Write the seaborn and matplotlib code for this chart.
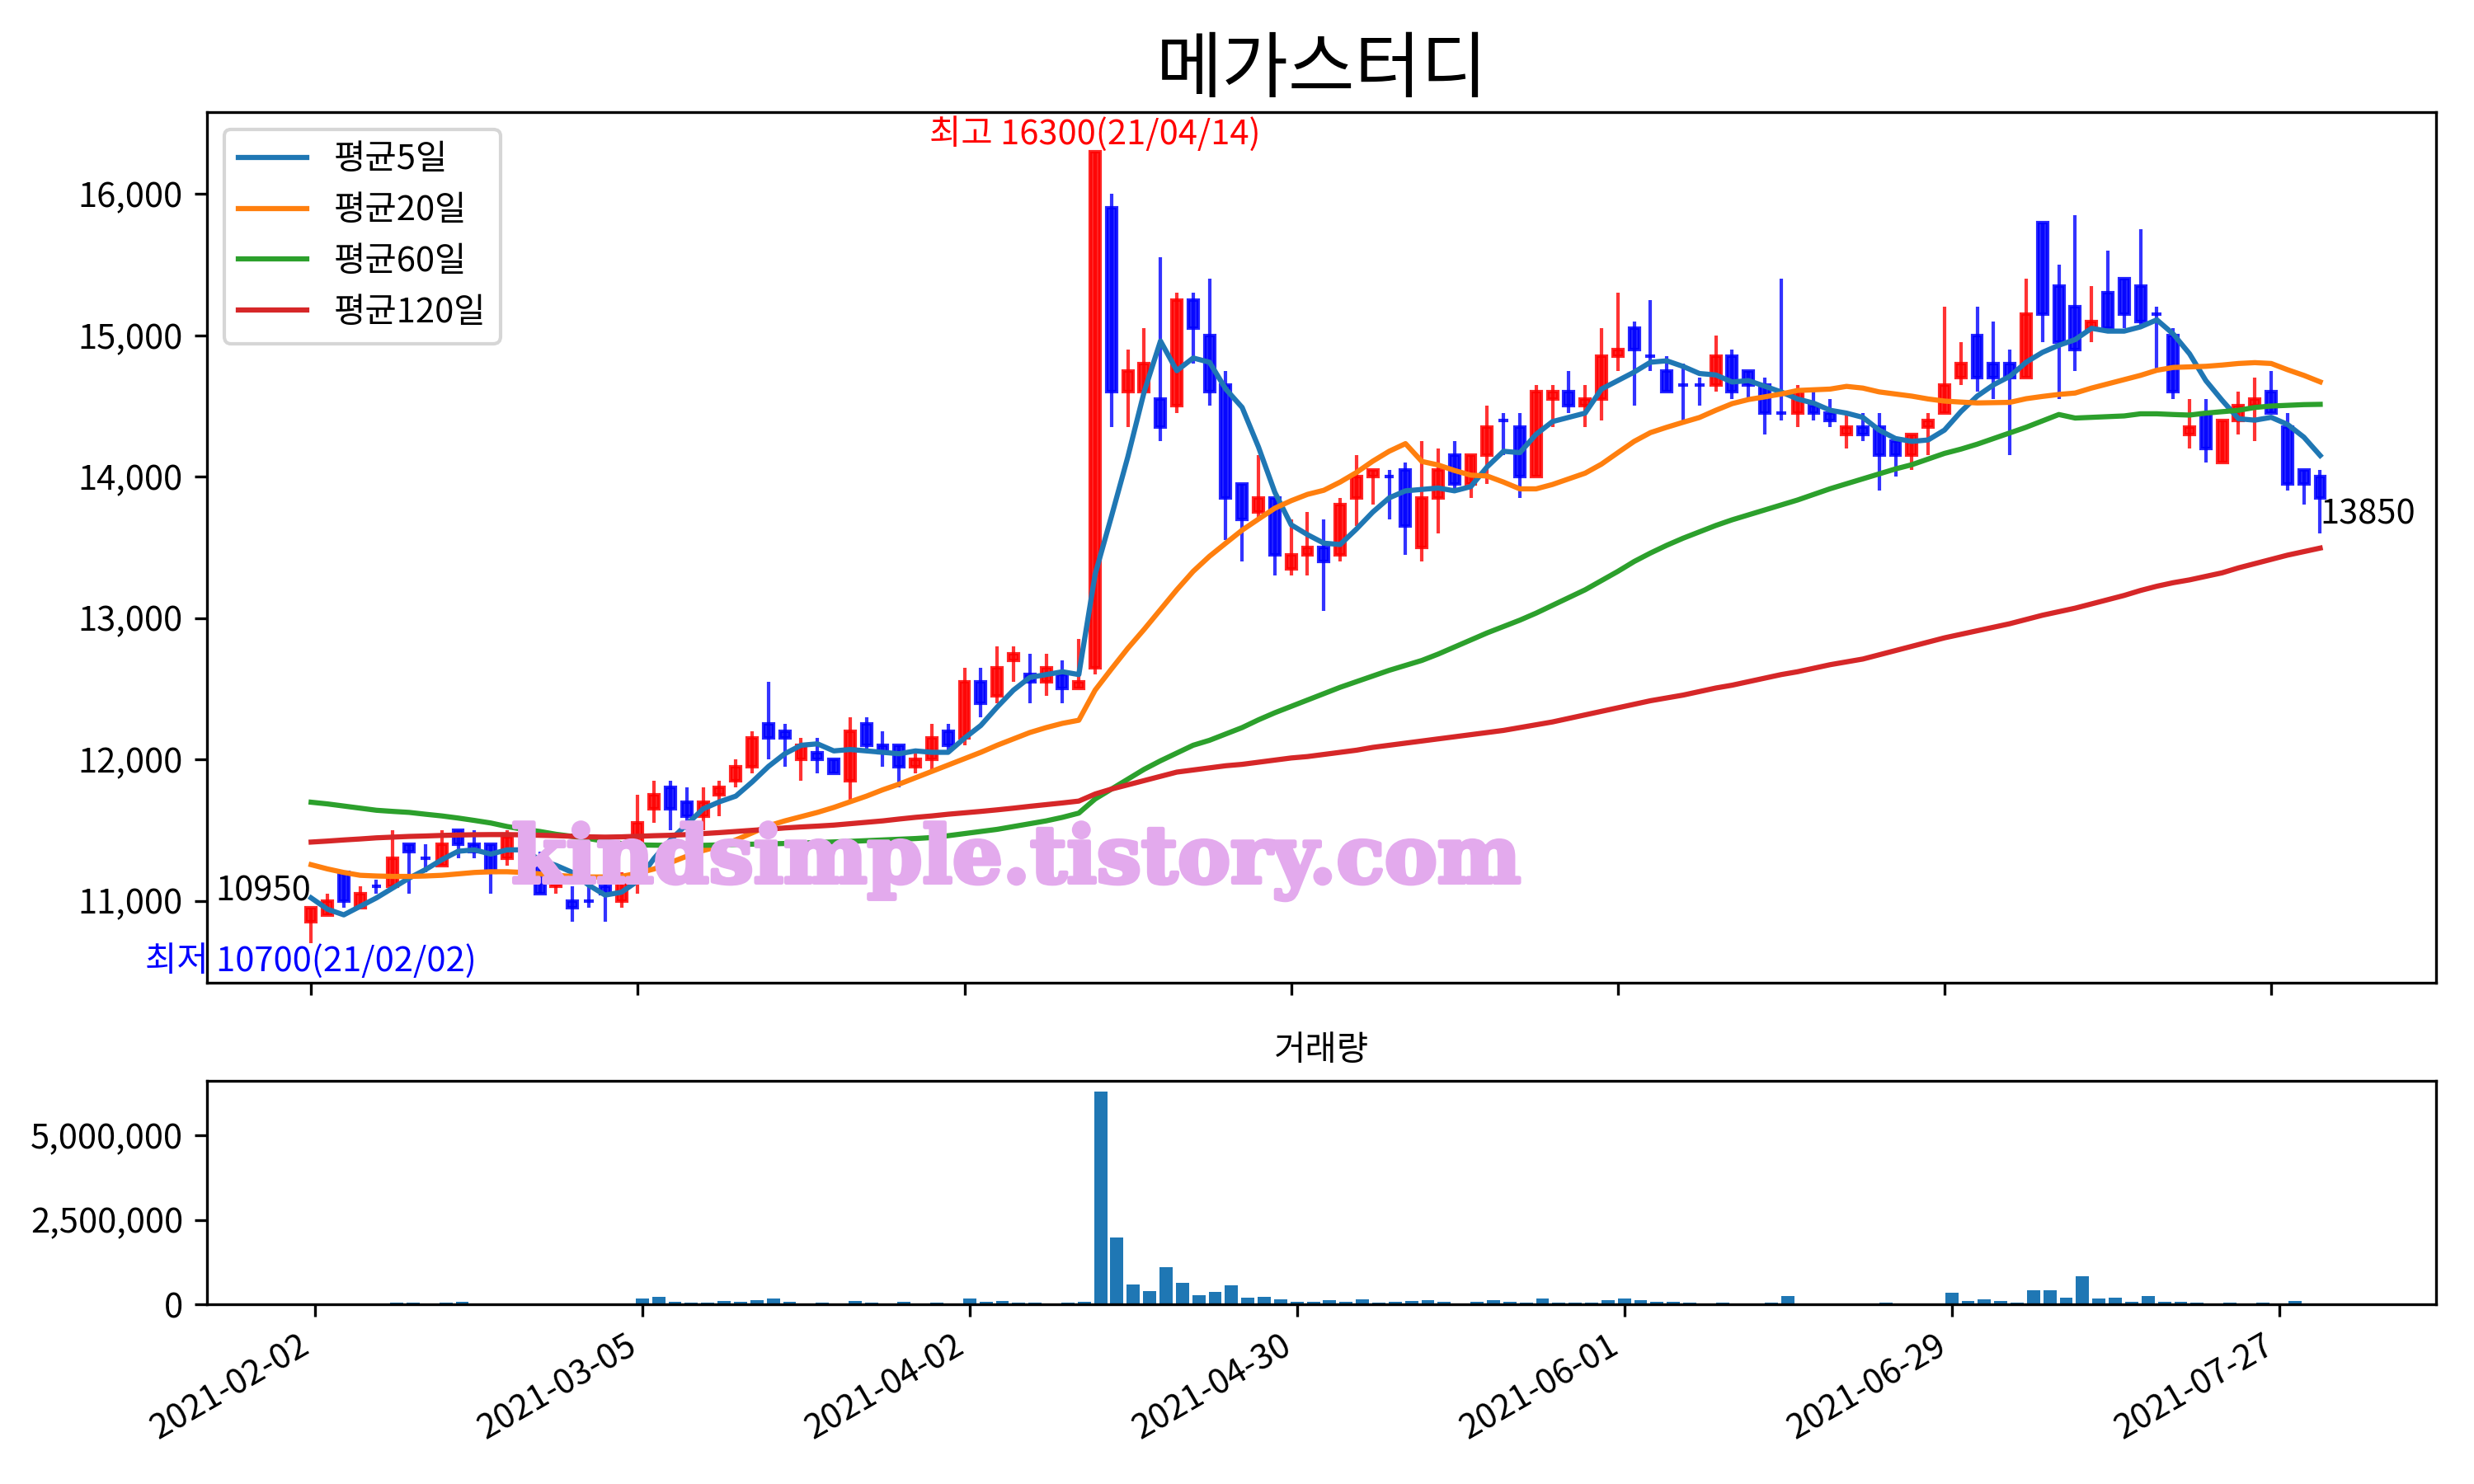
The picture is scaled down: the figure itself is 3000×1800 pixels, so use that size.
import numpy as np
import pandas as pd
import matplotlib
matplotlib.use('Agg')
import matplotlib.pyplot as plt
import matplotlib.patheffects as pe
import seaborn as sns
from matplotlib.ticker import FuncFormatter

title = '메가스터디'
volume_title = '거래량'
tick_labels = ['2021-02-02', '2021-03-05', '2021-04-02', '2021-04-30',
               '2021-06-01', '2021-06-29', '2021-07-27']
legend_labels = ['평균5일', '평균20일', '평균60일', '평균120일']
high_text = '최고 16300(21/04/14)'
low_text = '최저 10700(21/02/02)'
first_close_text = '10950'
last_close_text = '13850'
watermark = 'kindsimple.tistory.com'

opens = [10850, 10900, 11200, 10950, 11100, 11100, 11400, 11300, 11250, 11500,
         11400, 11400, 11300, 11400, 11300, 11100, 11000, 11000, 11100, 11000,
         11200, 11650, 11800, 11700, 11600, 11750, 11850, 11950, 12250, 12200,
         12000, 12050, 12000, 11850, 12250, 12100, 12100, 11950, 12000, 12200,
         12150, 12550, 12450, 12700, 12600, 12550, 12600, 12500, 12650, 15900,
         14600, 14600, 14550, 14500, 15250, 15000, 14650, 13950, 13750, 13850,
         13350, 13450, 13500, 13450, 13850, 14000, 14000, 14050, 13500, 13850,
         14150, 13950, 14150, 14400, 14350, 14000, 14550, 14600, 14500, 14550,
         14850, 15050, 14850, 14750, 14650, 14650, 14650, 14850, 14750, 14650,
         14450, 14450, 14500, 14450, 14300, 14350, 14350, 14250, 14150, 14350,
         14450, 14700, 15000, 14800, 14800, 14700, 15800, 15350, 15200, 15050,
         15300, 15400, 15350, 15150, 15000, 14300, 14450, 14100, 14400, 14500,
         14600, 14350, 14050, 14000]
highs = [10950, 11050, 11200, 11100, 11150, 11500, 11400, 11400, 11500, 11500,
         11500, 11400, 11500, 11450, 11350, 11200, 11100, 11100, 11150, 11200,
         11750, 11850, 11850, 11800, 11800, 11850, 12000, 12200, 12550, 12250,
         12150, 12150, 12000, 12300, 12300, 12200, 12100, 12050, 12250, 12250,
         12650, 12650, 12800, 12800, 12750, 12750, 12700, 12850, 16300, 16000,
         14900, 15050, 15550, 15300, 15300, 15400, 14750, 13950, 14150, 13850,
         13700, 13750, 13700, 13850, 14150, 14050, 14050, 14100, 14250, 14200,
         14250, 14150, 14500, 14450, 14450, 14650, 14650, 14750, 14650, 15050,
         15300, 15100, 15250, 14850, 14800, 14700, 15000, 14900, 14750, 14700,
         15400, 14650, 14600, 14550, 14450, 14450, 14450, 14250, 14300, 14450,
         15200, 14950, 15200, 15100, 14900, 15400, 15800, 15500, 15850, 15350,
         15600, 15400, 15750, 15200, 15050, 14550, 14550, 14400, 14600, 14700,
         14750, 14450, 14050, 14050]
lows = [10700, 10900, 10950, 10950, 11050, 11100, 11050, 11200, 11250, 11300,
        11300, 11050, 11250, 11350, 11050, 11050, 10850, 10950, 10850, 10950,
        11050, 11550, 11500, 11500, 11500, 11600, 11800, 11900, 12000, 11950,
        11850, 11900, 11900, 11700, 12050, 11950, 11800, 11900, 11900, 12050,
        12100, 12300, 12400, 12550, 12400, 12450, 12400, 12500, 12600, 14350,
        14350, 14600, 14250, 14450, 14800, 14500, 13550, 13400, 13700, 13300,
        13300, 13300, 13050, 13400, 13650, 13800, 13700, 13450, 13400, 13600,
        13900, 13850, 13950, 14150, 13850, 14000, 14350, 14450, 14350, 14400,
        14750, 14500, 14750, 14600, 14400, 14500, 14600, 14550, 14550, 14300,
        14400, 14350, 14400, 14350, 14200, 14250, 13900, 14000, 14050, 14150,
        14450, 14650, 14600, 14550, 14150, 14700, 14950, 14550, 14750, 14950,
        15050, 15050, 15050, 14750, 14550, 14200, 14100, 14100, 14300, 14250,
        14450, 13900, 13800, 13600]
closes = [10950, 11000, 11000, 11050, 11100, 11300, 11350, 11300, 11400, 11400,
          11350, 11200, 11450, 11400, 11050, 11150, 10950, 11000, 11050, 11150,
          11550, 11750, 11650, 11600, 11700, 11800, 11950, 12150, 12150, 12150,
          12100, 12000, 11900, 12200, 12100, 12050, 11950, 12000, 12150, 12100,
          12550, 12400, 12650, 12750, 12550, 12650, 12500, 12550, 16300, 14600,
          14750, 14800, 14350, 15250, 15050, 14600, 13850, 13700, 13850, 13450,
          13450, 13500, 13400, 13800, 14000, 14050, 14000, 13650, 13850, 14050,
          13950, 14150, 14350, 14400, 14000, 14600, 14600, 14500, 14550, 14850,
          14900, 14900, 14850, 14600, 14650, 14650, 14850, 14600, 14650, 14450,
          14450, 14600, 14450, 14400, 14350, 14300, 14150, 14150, 14300, 14400,
          14650, 14800, 14700, 14700, 14700, 15150, 15150, 14950, 14900, 15100,
          15050, 15150, 15100, 15150, 14600, 14350, 14200, 14400, 14500, 14550,
          14450, 13950, 13950, 13850]
volume = [20000, 25000, 30000, 20000, 25000, 64000, 64000, 40000, 64000, 88000,
          40000, 40000, 40000, 20000, 40000, 20000, 25000, 15000, 20000, 25000,
          185000, 240000, 88000, 64000, 64000, 112000, 88000, 136000, 185000, 88000,
          40000, 64000, 40000, 112000, 64000, 40000, 88000, 20000, 64000, 40000,
          185000, 88000, 112000, 64000, 64000, 40000, 64000, 88000, 6300000, 1990000,
          590000, 400000, 1110000, 640000, 280000, 370000, 570000, 210000, 240000, 160000,
          88000, 88000, 128000, 88000, 160000, 64000, 88000, 112000, 136000, 88000,
          40000, 88000, 136000, 88000, 64000, 185000, 64000, 64000, 64000, 136000,
          185000, 136000, 88000, 88000, 64000, 40000, 64000, 40000, 20000, 64000,
          257000, 40000, 15000, 15000, 15000, 15000, 64000, 20000, 20000, 40000,
          353000, 112000, 160000, 112000, 64000, 425000, 425000, 209000, 835000, 185000,
          209000, 88000, 257000, 88000, 88000, 64000, 40000, 64000, 20000, 64000,
          20000, 112000, 40000, 20000]
ma5_head = [11020, 10940, 10900, 10960]
ma20 = [11255, 11225, 11200, 11180, 11175, 11172, 11172, 11175, 11180, 11190,
        11200, 11205, 11205, 11200, 11190, 11180, 11172, 11168, 11168, 11172,
        11195, 11225, 11270, 11315, 11355, 11385, 11430, 11480, 11530, 11565,
        11595, 11625, 11660, 11700, 11740, 11785, 11825, 11870, 11915, 11960,
        12005, 12050, 12100, 12145, 12190, 12225, 12255, 12277, 12490, 12640,
        12786, 12920, 13060, 13200, 13330, 13437, 13530, 13622, 13700, 13777,
        13830, 13875, 13904, 13962, 14030, 14110, 14180, 14234, 14108, 14083,
        14044, 14011, 14005, 13962, 13914, 13914, 13945, 13985, 14025, 14089,
        14170, 14250, 14312, 14350, 14385, 14419, 14470, 14517, 14546, 14565,
        14585, 14610, 14615, 14620, 14639, 14627, 14600, 14585, 14570, 14550,
        14535, 14528, 14522, 14524, 14526, 14552, 14568, 14582, 14592, 14627,
        14657, 14687, 14717, 14753, 14773, 14777, 14781, 14790, 14801, 14807,
        14801, 14757, 14717, 14671]
ma60 = [11697, 11685, 11670, 11655, 11640, 11632, 11625, 11612, 11600, 11585,
        11568, 11550, 11525, 11505, 11490, 11470, 11455, 11440, 11420, 11405,
        11395, 11393, 11392, 11391, 11392, 11395, 11398, 11400, 11402, 11405,
        11408, 11412, 11416, 11420, 11425, 11430, 11435, 11440, 11447, 11460,
        11475, 11490, 11505, 11525, 11545, 11565, 11590, 11620, 11720, 11790,
        11860, 11930, 11990, 12045, 12100, 12135, 12180, 12225, 12280, 12330,
        12375, 12420, 12465, 12510, 12550, 12590, 12630, 12665, 12700, 12745,
        12795, 12845, 12895, 12940, 12985, 13035, 13090, 13145, 13200, 13265,
        13330, 13400, 13460, 13515, 13565, 13610, 13655, 13695, 13730, 13765,
        13800, 13835, 13875, 13915, 13950, 13985, 14020, 14055, 14085, 14125,
        14165, 14195, 14230, 14270, 14310, 14350, 14395, 14440, 14415, 14420,
        14425, 14430, 14445, 14445, 14440, 14436, 14450, 14460, 14470, 14490,
        14500, 14505, 14510, 14512]
ma120 = [11415, 11422, 11430, 11437, 11445, 11450, 11455, 11458, 11462, 11465,
         11467, 11468, 11468, 11466, 11463, 11460, 11456, 11452, 11450, 11452,
         11456, 11460, 11463, 11468, 11475, 11482, 11490, 11498, 11506, 11515,
         11522, 11528, 11535, 11545, 11555, 11565, 11578, 11590, 11600, 11612,
         11622, 11632, 11643, 11655, 11668, 11680, 11692, 11705, 11755, 11790,
         11820, 11850, 11880, 11910, 11925, 11940, 11955, 11965, 11980, 11995,
         12010, 12020, 12035, 12050, 12065, 12085, 12100, 12115, 12130, 12145,
         12160, 12175, 12190, 12205, 12225, 12245, 12265, 12290, 12315, 12340,
         12365, 12390, 12415, 12435, 12455, 12480, 12505, 12525, 12550, 12575,
         12600, 12620, 12645, 12670, 12690, 12710, 12740, 12770, 12800, 12830,
         12860, 12885, 12910, 12935, 12960, 12990, 13020, 13045, 13070, 13100,
         13130, 13160, 13195, 13225, 13250, 13270, 13295, 13320, 13355, 13385,
         13415, 13445, 13470, 13495]

plt.rcParams['font.family'] = ['Noto Sans CJK KR', 'DejaVu Sans']
plt.rcParams['axes.unicode_minus'] = False

n = len(closes)
idx = np.arange(n)
df = pd.DataFrame({'open': opens, 'high': highs, 'low': lows,
                   'close': closes, 'volume': volume, 'ma20': ma20,
                   'ma60': ma60, 'ma120': ma120}, index=idx)
ma5 = df['close'].rolling(5).mean()
ma5.iloc[:4] = ma5_head
df['ma5'] = ma5

fig = plt.figure(figsize=(10, 6), dpi=300)
ax1 = fig.add_axes([0.0837, 0.3378, 0.901, 0.5867])
ax2 = fig.add_axes([0.0837, 0.1209, 0.901, 0.151])

up = df['close'] > df['open']
cols = np.where(up, '#ff0000', '#0000ff')
ax1.vlines(idx, df['low'], df['high'], colors=cols, linewidth=1.0,
           alpha=0.8, zorder=2)
ax1.bar(idx, df['close'] - df['open'], bottom=df['open'], width=0.6,
        color=cols, edgecolor=cols, linewidth=1.0, alpha=0.85, zorder=3)

ma_cols = ['ma5', 'ma20', 'ma60', 'ma120']
line_colors = ['#1f77b4', '#ff7f0e', '#2ca02c', '#d62728']
for c, lab, lc in zip(ma_cols, legend_labels, line_colors):
    sns.lineplot(x=idx, y=df[c].values, ax=ax1, label=lab, color=lc,
                 linewidth=1.5, zorder=4)
ax1.legend(loc='upper left')
ax1.set_xlabel('')
ax1.set_ylabel('')

i_hi = int(np.argmax(df['high']))
i_lo = int(np.argmin(df['low']))
ax1.text(i_hi, df['high'][i_hi], high_text, color='red', ha='center', va='bottom')
ax1.text(i_lo, df['low'][i_lo], low_text, color='blue', ha='center', va='top')
ax1.text(0, df['close'][0], first_close_text, color='black', ha='right', va='bottom')
ax1.text(n - 1, df['close'][n - 1], last_close_text, color='black', ha='left', va='top')

wm_color = '#e3aaed'
ax1.text(0.363, 0.1150, watermark, transform=ax1.transAxes, ha='center',
         va='baseline', fontsize=23, fontweight='bold', family='DejaVu Serif',
         color=wm_color, zorder=10,
         path_effects=[pe.withStroke(linewidth=1.2, foreground=wm_color)])

ax1.set_title(title, fontsize=21)
ax1.set_xlim(-6.37, 130.1)
ax1.set_xticks(range(0, n, 20))
ax1.tick_params(labelbottom=False)
fmt = FuncFormatter(lambda v, p: f'{v:,.0f}')
ax1.yaxis.set_major_formatter(fmt)

ax2.bar(idx, df['volume'], width=0.8, color='#1f77b4')
ax2.set_title(volume_title, fontsize=10)
ax2.set_xlim(-6.59, 129.6)
ax2.set_xticks(range(0, n, 20))
ax2.set_xticklabels(tick_labels, rotation=30, ha='right')
ax2.yaxis.set_major_formatter(fmt)

fig.savefig('out.png', dpi=300)
